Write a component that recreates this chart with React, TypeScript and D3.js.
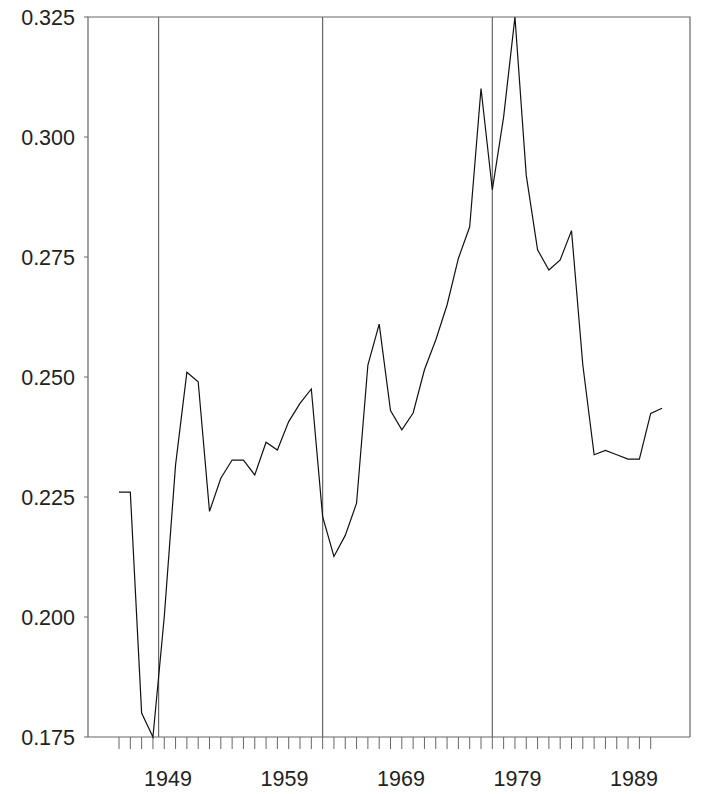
import * as d3 from 'd3';

const years = d3.range(1945, 1994);
const values = [
  0.226, 0.226, 0.180, 0.175, 0.200, 0.2317, 0.251, 0.249, 0.222, 0.2289,
  0.2327, 0.2327, 0.2296, 0.2364, 0.2348, 0.2407, 0.2445, 0.2475, 0.2209, 0.2126,
  0.217, 0.2237, 0.2525, 0.261, 0.243, 0.239, 0.2425, 0.2515, 0.2577, 0.265,
  0.2747, 0.2813, 0.3101, 0.289, 0.3042, 0.325, 0.292, 0.2765, 0.2723, 0.2744,
  0.2805, 0.2525, 0.2338, 0.2347, 0.2338, 0.2329, 0.2329, 0.2424, 0.2435,
];
const tickYears = d3.range(1945, 1993);
const labelYears = [1949, 1959, 1969, 1979, 1989];
const breakYears = [1948.5, 1963, 1978];
const yTicks = [0.175, 0.2, 0.225, 0.25, 0.275, 0.3, 0.325];

const W = 702, H = 794;
const left = 88, right = 690, top = 17, bottom = 737;

export default function App() {
  const x = d3.scaleLinear().domain([1945, 1992]).range([119, 650.7]);
  const xl = d3.scaleLinear().domain([1949, 1989]).range([168, 634]);
  const y = d3.scaleLinear().domain([0.175, 0.325]).range([bottom, top]);
  const line = d3.line<number>().x((_, i) => x(years[i])).y(d => y(d));
  const grey = '#666';
  const font = '"Liberation Sans", Arial, sans-serif';
  return (
    <svg width={W} height={H} style={{ position: 'absolute', left: 0, top: 0, background: '#fff' }}>
      <path d={`M${left},${bottom}V${top}H${right}V${bottom}`} fill="none" stroke={grey} strokeWidth={1.2} />
      <line x1={left} x2={right} y1={bottom} y2={bottom} stroke={grey} strokeWidth={1.2} />
      {yTicks.map(t => (
        <g key={t}>
          <line x1={left - 4} x2={left} y1={y(t)} y2={y(t)} stroke={grey} />
          <text x={75} y={y(t)} dy="0.35em" textAnchor="end" fontFamily={font} fontSize={21.5} fill="#222">
            {t.toFixed(3)}
          </text>
        </g>
      ))}
      {tickYears.map(t => (
        <line key={t} x1={x(t)} x2={x(t)} y1={bottom} y2={bottom + 12} stroke={grey} />
      ))}
      {labelYears.map(t => (
        <text key={t} x={xl(t)} y={786} textAnchor="middle" fontFamily={font} fontSize={21.5} fill="#222">
          {t}
        </text>
      ))}
      {breakYears.map(t => (
        <line key={t} x1={x(t)} x2={x(t)} y1={top} y2={bottom} stroke={grey} strokeWidth={1.2} />
      ))}
      <path d={line(values) || ''} fill="none" stroke="#111" strokeWidth={1.2} />
    </svg>
  );
}
